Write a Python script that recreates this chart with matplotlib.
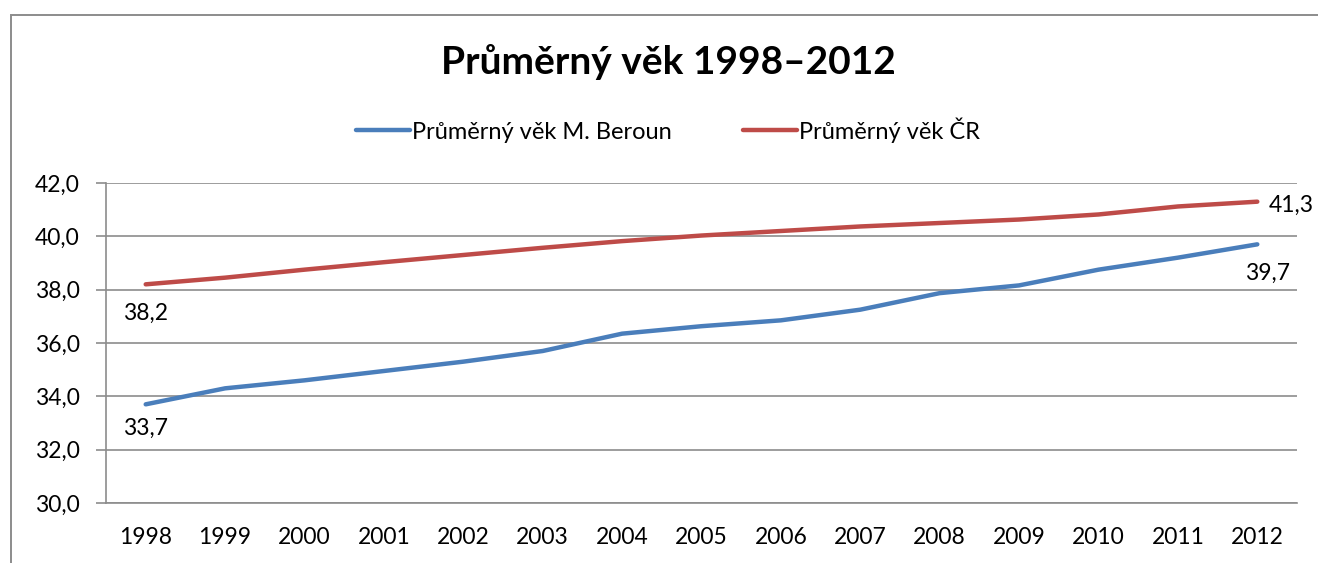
import matplotlib
matplotlib.use("Agg")
import matplotlib.pyplot as plt
from matplotlib.patches import Rectangle

years = [str(y) for y in range(1998, 2013)]
beroun = [33.7, 34.3, 34.6, 34.95, 35.3, 35.7, 36.35, 36.63, 36.85, 37.25, 37.87, 38.16, 38.75, 39.2, 39.7]
cr = [38.2, 38.45, 38.75, 39.03, 39.3, 39.57, 39.82, 40.03, 40.2, 40.37, 40.5, 40.63, 40.82, 41.12, 41.3]
yticks = [30, 32, 34, 36, 38, 40, 42]
title = "Průměrný věk 1998–2012"
label_beroun = "Průměrný věk M. Beroun"
label_cr = "Průměrný věk ČR"

plt.rcParams['font.family'] = ['Lato', 'DejaVu Sans']

W, H = 1318, 563
fig = plt.figure(figsize=(W / 100, H / 100), dpi=100)
fig.patches.append(Rectangle((11 / W, -0.1), 1.2, 1.1 - 15 / H, transform=fig.transFigure,
                             fill=False, edgecolor='#8c8c8c', linewidth=1.4))

ax = fig.add_axes([106 / W, 60 / H, (1297 - 106) / W, (503 - 183) / H])
x = list(range(len(years)))
blue = '#4A7EBB'
red = '#BE4B48'
l1, = ax.plot(x, beroun, color=blue, linewidth=3.2, solid_capstyle='round', label=label_beroun)
l2, = ax.plot(x, cr, color=red, linewidth=3.2, solid_capstyle='round', label=label_cr)

fs = 16.5
ax.set_xlim(-0.5, len(years) - 0.5)
ax.set_ylim(30, 42)
ax.set_yticks(yticks)
ax.set_yticklabels([f"{v:.1f}".replace('.', ',') for v in yticks], fontsize=fs)
ax.set_xticks(x)
ax.set_xticklabels(years, fontsize=fs)
ax.tick_params(axis='x', length=0, pad=17)
ax.tick_params(axis='y', length=7, color='#8c8c8c', width=1.2, pad=12)
ax.grid(axis='y', color='#8c8c8c', linewidth=1.2)
ax.set_axisbelow(True)
for s in ['top', 'right']:
    ax.spines[s].set_visible(False)
ax.spines['left'].set_color('#8c8c8c')
ax.spines['left'].set_linewidth(1.2)
ax.spines['bottom'].set_color('#8c8c8c')
ax.spines['bottom'].set_linewidth(1.2)

def fmt(v):
    return f"{v:.1f}".replace('.', ',')

ax.annotate(fmt(cr[0]), (x[0], cr[0]), xytext=(0, -13), textcoords='offset points',
            ha='center', va='top', fontsize=fs)
ax.annotate(fmt(beroun[0]), (x[0], beroun[0]), xytext=(0, -10), textcoords='offset points',
            ha='center', va='top', fontsize=fs)
ax.annotate(fmt(cr[-1]), (x[-1], cr[-1]), xytext=(8, -3), textcoords='offset points',
            ha='left', va='center', fontsize=fs)
ax.annotate(fmt(beroun[-1]), (x[-1], beroun[-1]), xytext=(7, -13), textcoords='offset points',
            ha='center', va='top', fontsize=fs)

fig.text(668 / W, 1 - 62 / H, title, ha='center', va='center', fontsize=28, fontweight='bold')
fig.legend(handles=[l1, l2], loc='center', bbox_to_anchor=(668 / W, 1 - 130 / H), ncol=2,
           frameon=False, fontsize=17, handlelength=2.3, handletextpad=0.1, columnspacing=3.0)

fig.savefig('out.png', dpi=100)
